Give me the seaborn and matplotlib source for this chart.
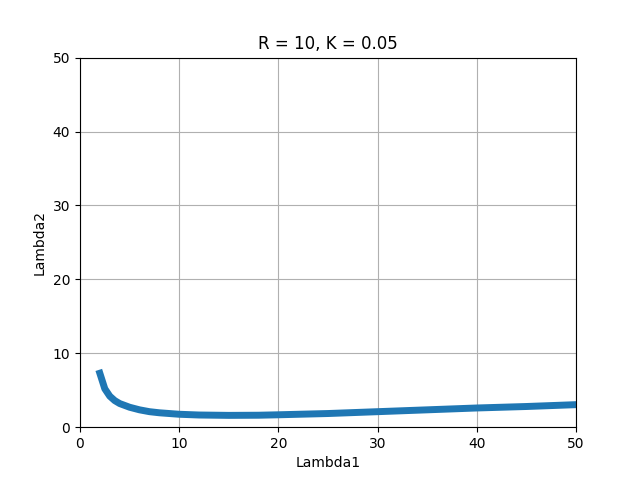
import matplotlib
matplotlib.use("Agg")
import matplotlib.pyplot as plt
import seaborn as sns

# values
lambda1 = [2, 2.5, 3, 3.5, 4, 5, 6, 7, 8, 10, 12, 15, 18, 20, 25, 30, 35, 40, 45, 50]
lambda2 = [7.3, 5.2, 4.2, 3.6, 3.2, 2.7, 2.35, 2.1, 1.95, 1.75, 1.65, 1.6, 1.62, 1.68, 1.85, 2.1, 2.35, 2.6, 2.8, 3.05]

fig, ax = plt.subplots(figsize=(6.4, 4.8), dpi=100)
sns.lineplot(x=lambda1, y=lambda2, ax=ax, linewidth=5, color="#1f77b4", sort=False)
ax.set_xlim(0, 50)
ax.set_ylim(0, 50)
ax.grid(True)
ax.set_xlabel("Lambda1")
ax.set_ylabel("Lambda2")
ax.set_title("R = 10, K = 0.05")
fig.savefig("out.png")
